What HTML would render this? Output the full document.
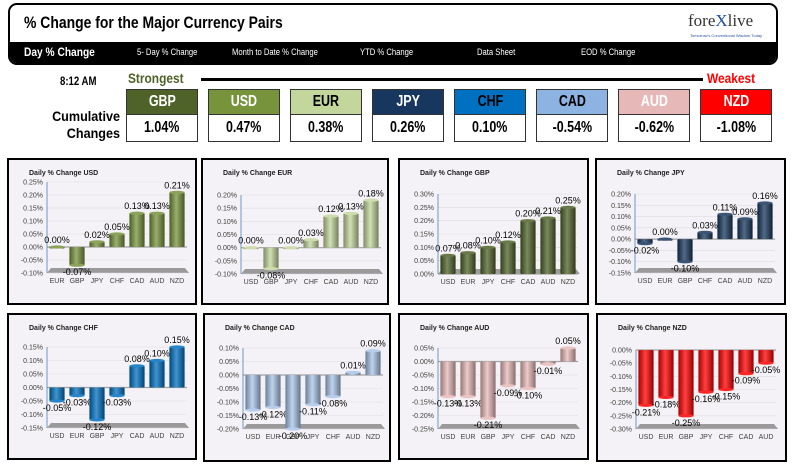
<!DOCTYPE html>
<html><head><meta charset="utf-8">
<style>
body{margin:0;width:793px;height:464px;background:#fff;position:relative;overflow:hidden;font-family:"Liberation Sans",sans-serif}
.abs{position:absolute}
#hdr{left:8px;top:3px;width:766px;height:58px;border:2px solid #000;border-radius:9px;overflow:hidden;background:#fff}
#bar{left:0;top:37px;width:766px;height:21px;background:#000;color:#fff}
.menu{position:absolute;top:5px;font-size:9px;transform:scaleX(.85);transform-origin:left}
.cur{position:absolute;width:70px;border:1px solid #333;text-align:center;font-weight:bold}
.cur span{display:inline-block;transform:scaleX(.78)}
.ch{top:89px;height:24px;line-height:24px;font-size:16px}
.cv{top:114px;height:26px;line-height:26px;font-size:16px;background:#fff;color:#000}
.panel{position:absolute;border:2px solid #000;background:#f4f2f6;box-sizing:border-box}
</style></head><body>
<div id="hdr" class="abs">
 <div class="abs" style="left:14px;top:8px;font-size:17px;font-weight:bold;transform:scaleX(.82);transform-origin:left;white-space:nowrap">% Change for the Major Currency Pairs</div>
 <div class="abs" style="left:678px;top:6px;font-family:'Liberation Serif',serif;font-size:17px;color:#333">fore<span style="color:#1f4e9a">X</span>live</div>
 <div class="abs" style="left:680px;top:28px;font-size:4px;color:#1f4e9a">Tomorrow's Conventional Wisdom Today</div>
 <div id="bar" class="abs">
  <div class="menu" style="left:14px;top:3px;font-size:12px;font-weight:bold">Day % Change</div>
  <div class="menu" style="left:127px">5- Day % Change</div>
  <div class="menu" style="left:222px">Month to Date % Change</div>
  <div class="menu" style="left:350px">YTD % Change</div>
  <div class="menu" style="left:467px">Data Sheet</div>
  <div class="menu" style="left:571px">EOD % Change</div>
 </div>
</div>
<div class="abs" style="left:60px;top:74px;font-size:12px;font-weight:bold;transform:scaleX(.8);transform-origin:left">8:12 AM</div>
<div class="abs" style="left:128px;top:70px;font-size:14px;font-weight:bold;color:#4f6228;transform:scaleX(.85);transform-origin:left">Strongest</div>
<div class="abs" style="left:201px;top:78px;width:502px;height:3px;background:#000"></div>
<div class="abs" style="left:707px;top:70px;font-size:14px;font-weight:bold;color:#f00;transform:scaleX(.85);transform-origin:left">Weakest</div>
<div class="abs" style="left:44px;top:108px;font-size:14px;font-weight:bold;text-align:right;line-height:17px;width:76px;transform:scaleX(.9);transform-origin:right">Cumulative<br>Changes</div>
<div id="cum"></div>
<div id="panels"></div>
<script>
const curNames=["GBP","USD","EUR","JPY","CHF","CAD","AUD","NZD"];
const curVals=["1.04%","0.47%","0.38%","0.26%","0.10%","-0.54%","-0.62%","-1.08%"];
const curBg=["#4f6228","#77933c","#c3d69b","#17375e","#0070c0","#8db3e2","#e6b9b8","#ff0000"];
const curFg=["#fff","#fff","#000","#fff","#000","#000","#fff","#fff"];
const cum=document.getElementById('cum');
curNames.forEach((n,i)=>{
 const x=126+i*82;
 const h=document.createElement('div');h.className='cur ch';h.style.left=x+'px';h.style.background=curBg[i];h.style.color=curFg[i];h.innerHTML='<span>'+n+'</span>';
 
 
 const v=document.createElement('div');v.className='cur cv';v.style.left=x+'px';v.innerHTML='<span>'+curVals[i]+'</span>';
 
 
 cum.appendChild(h);cum.appendChild(v);
});

const catsUSD=["EUR","GBP","JPY","CHF","CAD","AUD","NZD"], valsUSD=[0.00,-0.07,0.02,0.05,0.13,0.13,0.21], ticksUSD=[-0.10,0.25];
const catsEUR=["USD","GBP","JPY","CHF","CAD","AUD","NZD"], valsEUR=[0.00,-0.08,0.00,0.03,0.12,0.13,0.18], ticksEUR=[-0.10,0.20];
const catsGBP=["USD","EUR","JPY","CHF","CAD","AUD","NZD"], valsGBP=[0.07,0.08,0.10,0.12,0.20,0.21,0.25], ticksGBP=[0.00,0.30];
const catsJPY=["USD","EUR","GBP","CHF","CAD","AUD","NZD"], valsJPY=[-0.02,0.00,-0.10,0.03,0.11,0.09,0.16], ticksJPY=[-0.15,0.20];
const catsCHF=["USD","EUR","GBP","JPY","CAD","AUD","NZD"], valsCHF=[-0.05,-0.03,-0.12,-0.03,0.08,0.10,0.15], ticksCHF=[-0.15,0.15];
const catsCAD=["USD","EUR","GBP","JPY","CHF","AUD","NZD"], valsCAD=[-0.13,-0.12,-0.20,-0.11,-0.08,0.01,0.09], ticksCAD=[-0.20,0.10];
const catsAUD=["USD","EUR","GBP","JPY","CHF","CAD","NZD"], valsAUD=[-0.13,-0.13,-0.21,-0.09,-0.10,-0.01,0.05], ticksAUD=[-0.25,0.05];
const catsNZD=["USD","EUR","GBP","JPY","CHF","CAD","AUD"], valsNZD=[-0.21,-0.18,-0.25,-0.16,-0.15,-0.09,-0.05], ticksNZD=[-0.30,0.00];

const panels=[
 {n:"USD",c:catsUSD,v:valsUSD,t:ticksUSD,col:"#77933c",x:7,y:158,w:190,h:147,top:22,bot:113},
 {n:"EUR",c:catsEUR,v:valsEUR,t:ticksEUR,col:"#c3d69b",x:201,y:158,w:188,h:147,top:35,bot:114},
 {n:"GBP",c:catsGBP,v:valsGBP,t:ticksGBP,col:"#4f6228",x:398,y:158,w:191,h:147,top:34,bot:114},
 {n:"JPY",c:catsJPY,v:valsJPY,t:ticksJPY,col:"#17375e",x:595,y:158,w:191,h:147,top:34,bot:113},
 {n:"CHF",c:catsCHF,v:valsCHF,t:ticksCHF,col:"#0070c0",x:7,y:313,w:190,h:147,top:32,bot:113},
 {n:"CAD",c:catsCAD,v:valsCAD,t:ticksCAD,col:"#a9c4e8",x:203,y:313,w:188,h:149,top:33,bot:114},
 {n:"AUD",c:catsAUD,v:valsAUD,t:ticksAUD,col:"#e6b9b8",x:398,y:313,w:191,h:147,top:33,bot:114},
 {n:"NZD",c:catsNZD,v:valsNZD,t:ticksNZD,col:"#ff0000",x:596,y:313,w:191,h:149,top:35,bot:114}
];
const NS="http://www.w3.org/2000/svg";
function el(t,a,p){const e=document.createElementNS(NS,t);for(const k in a)e.setAttribute(k,a[k]);p.appendChild(e);return e;}
function shade(hex,f){const n=parseInt(hex.slice(1),16);let r=n>>16,g=(n>>8)&255,b=n&255;
 const m=c=>Math.round(f<0?c*(1+f):c+(255-c)*f);return `rgb(${m(r)},${m(g)},${m(b)})`;}
const host=document.getElementById('panels');
panels.forEach((p,pi)=>{
 const d=document.createElement('div');d.className='panel';
 d.style.left=p.x+'px';d.style.top=p.y+'px';d.style.width=p.w+'px';d.style.height=p.h+'px';
 
 
 host.appendChild(d);
 const s=el('svg',{width:p.w-4,height:p.h-4,style:'position:absolute;left:0;top:0'},d);
 const defs=el('defs',{},s);
 const g=el('linearGradient',{id:'g'+pi,x1:0,x2:1,y1:0,y2:0},defs);
 el('stop',{offset:'0',"stop-color":shade(p.col,-0.35)},g);
 el('stop',{offset:'0.45',"stop-color":shade(p.col,0.25)},g);
 el('stop',{offset:'1',"stop-color":shade(p.col,-0.4)},g);
 const t=el('text',{x:20,y:15,"font-size":"7","font-weight":"bold",fill:"#222"},s);t.textContent="Daily % Change "+p.n;
 
 
 const ax=38,right=178,min=p.t[0],max=p.t[1];
 const y=v=>p.top+(max-v)/(max-min)*(p.bot-p.top);
 const slot=(right-ax)/p.c.length;
 const xc=i=>ax+slot*(i+0.5);
 const fl=el('polygon',{points:`${ax},${p.bot} ${right+2},${p.bot} ${right-2},${p.bot-5} ${ax+4},${p.bot-5}`,fill:"#9a9a9a"},s);
 
 
 for(let v=min;v<=max+1e-9;v+=0.05){
  const yy=y(v);
  el('line',{x1:ax,x2:right,y1:yy,y2:yy,stroke:Math.abs(v)<1e-9?"#a0a0a0":"#dcdcdc","stroke-width":Math.abs(v)<1e-9?1.2:0.6},s);
  const tl=el('text',{x:ax-4,y:yy+2.5,"font-size":"7","text-anchor":"end",fill:"#404040"},s);
  tl.textContent=(Math.abs(v)<1e-9?0:v).toFixed(2)+"%";
  
  
 }
 el('line',{x1:ax,x2:ax,y1:p.top,y2:p.bot,stroke:"#4f81bd","stroke-width":0.8},s);
 const zero=y(Math.max(min,Math.min(max,0)));
 const bw=slot*0.76;
 p.v.forEach((v,i)=>{
  const yv=y(v),top=Math.min(yv,zero),h=Math.max(1.5,Math.abs(yv-zero));
  const r=el('rect',{x:xc(i)-bw/2,y:top,width:bw,height:h,fill:`url(#g${pi})`,rx:1},s);
  
  
  el('ellipse',{cx:xc(i),cy:yv,rx:bw/2,ry:1.6,fill:shade(p.col,0.15)},s);
  const lb=el('text',{x:xc(i),y:v>=0?yv-4:yv+10,"font-size":"9","text-anchor":"middle",fill:"#000"},s);
  lb.textContent=v.toFixed(2)+"%";
  
  
  const cl=el('text',{x:xc(i),y:p.bot+10,"font-size":"7","text-anchor":"middle",fill:"#404040"},s);
  cl.textContent=p.c[i];
  
  
 });
});
</script>
</body></html>
